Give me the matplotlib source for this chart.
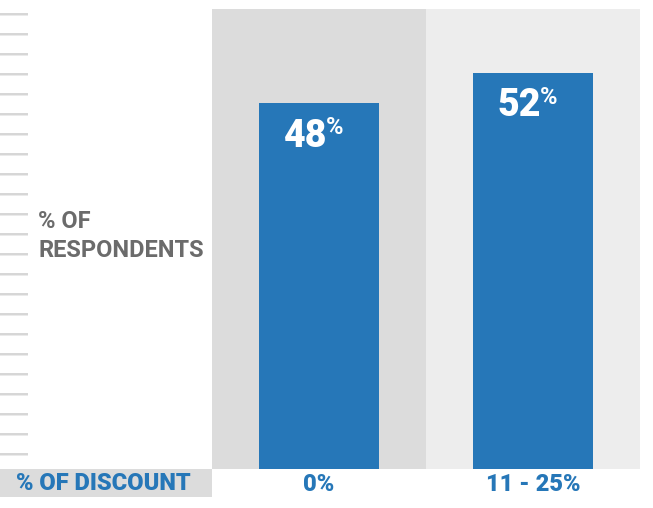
import matplotlib
matplotlib.use("Agg")
import matplotlib.pyplot as plt
from matplotlib.patches import Rectangle
import numpy as np

# Survey data
categories = ["0%", "11 - 25%"]
respondents = [48, 52]

BLUE = "#2677b8"
GRAY_TEXT = "#6b6b6b"
BG_COLS = ["#dcdcdc", "#ededed"]
TICK_GRAY = "#d6d6d6"
FONT = "Roboto"

W, H = 653, 508
fig = plt.figure(figsize=(W / 100, H / 100), dpi=100)
fig.patch.set_facecolor("white")


def fx(px):
    return px / W


def fy(py):
    return 1 - py / H


# Main plot area: columns from x=212 to 640, y=9 to 469
ax = fig.add_axes([fx(212), fy(469), fx(640) - fx(212), fy(9) - fy(469)])
ax.set_xlim(-0.5, len(categories) - 0.5)
ax.set_ylim(0, 60.4)

x = np.arange(len(categories))
for i in x:
    ax.axvspan(i - 0.5, i + 0.5, color=BG_COLS[i % 2], zorder=0, lw=0)

bars = ax.bar(x, respondents, width=0.561, color=BLUE, zorder=2, lw=0)

# value labels with a small raised percent sign
for rect, val in zip(bars, respondents):
    cx = rect.get_x() + rect.get_width() / 2
    top = rect.get_height()
    ax.annotate(f"{val}", (cx, top), xytext=(6, -23.5), textcoords="offset points",
                ha="right", va="center", color="white", fontsize=27,
                fontweight="black", family=FONT, zorder=3)
    ax.annotate("%", (cx, top), xytext=(5, -17.5), textcoords="offset points",
                ha="left", va="center", color="white", fontsize=17,
                fontweight="bold", family=FONT, zorder=3)

ax.set_xticks(x)
ax.set_xticklabels(categories, color=BLUE, fontsize=17, fontweight="black",
                   family=FONT)
ax.tick_params(axis="x", length=0, pad=3)
ax.set_yticks([])
for s in ax.spines.values():
    s.set_visible(False)

# Decorative tick marks down the left edge
ax_l = fig.add_axes([0, fy(469), fx(212), fy(9) - fy(469)])
ax_l.set_xlim(0, 212)
ax_l.set_ylim(0, 460)
ax_l.axis("off")
for ty in np.arange(15, 460, 20):
    ax_l.plot([0, 28], [ty - 1, ty - 1], color="#e6e6e6", lw=1.2, solid_capstyle="butt")
    ax_l.plot([0, 28], [ty, ty], color=TICK_GRAY, lw=1.4, solid_capstyle="butt")

fig.text(fx(38), fy(236), "% OF\nRESPONDENTS", ha="left", va="center",
         color=GRAY_TEXT, fontsize=17, fontweight="bold", family=FONT,
         linespacing=1.35)

# Bottom-left axis caption strip
fig.add_artist(Rectangle((0, fy(497)), fx(212), fy(469) - fy(497),
                         transform=fig.transFigure, color="#dcdcdc", lw=0))
fig.text(fx(103), fy(483), "% OF DISCOUNT", ha="center", va="center",
         color=BLUE, fontsize=17, fontweight="black", family=FONT)

fig.savefig("out.png", dpi=100, facecolor="white")
